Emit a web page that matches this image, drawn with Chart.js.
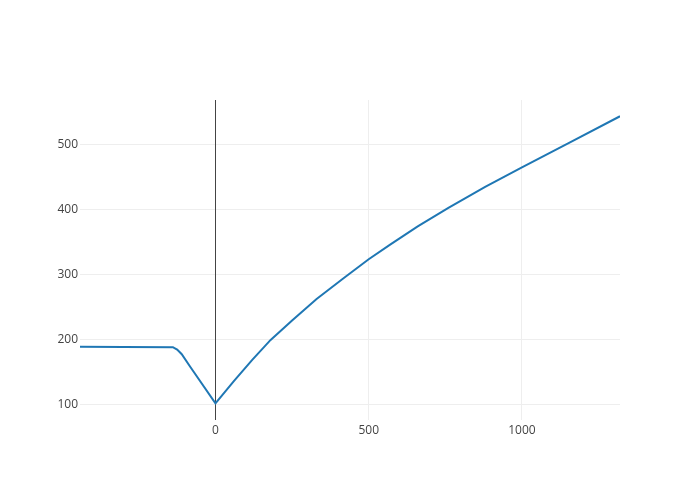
<!DOCTYPE html>
<html>
<head>
<meta charset="utf-8">
<script src="https://cdn.jsdelivr.net/npm/chart.js@4"></script>
<style>
  html, body { margin: 0; padding: 0; background: #fff; }
  #wrap { width: 700px; height: 500px; position: relative; }
</style>
</head>
<body>
<div id="wrap"><canvas id="c" width="700" height="500"></canvas></div>
<script>
const xValues = [-442, -300, -139, -125, -110, -83, 0, 60, 120, 180, 250, 330, 420, 500, 570, 660, 760, 880, 1000, 1160, 1320];
const yValues = [188.6, 188.2, 187.8, 184, 177, 158, 101.5, 135.7, 168.4, 199, 229, 262, 294.5, 323, 345.5, 373.5, 402, 434.5, 464.5, 503.5, 543];
const xTicks = [0, 500, 1000];
const yTicks = [100, 200, 300, 400, 500];
const xRange = [-442, 1320];
const yRange = [75.8, 568];

const points = xValues.map((x, i) => ({ x: x, y: yValues[i] }));

new Chart(document.getElementById('c'), {
  type: 'line',
  data: {
    datasets: [{
      data: points,
      borderColor: '#1f77b4',
      borderWidth: 2,
      pointRadius: 0,
      tension: 0,
      fill: false
    }]
  },
  options: {
    responsive: false,
    animation: false,
    layout: { padding: { left: 0, right: 80, top: 100, bottom: 0 } },
    plugins: { legend: { display: false }, tooltip: { enabled: false } },
    scales: {
      x: {
        type: 'linear',
        min: xRange[0],
        max: xRange[1],
        afterBuildTicks: s => { s.ticks = xTicks.map(v => ({ value: v })); },
        afterFit: s => { s.height = 80; },
        border: { display: false },
        grid: {
          z: 0,
          drawTicks: false,
          color: ctx => (ctx.tick && ctx.tick.value === 0) ? '#444444' : '#eeeeee',
          lineWidth: 1
        },
        ticks: {
          padding: 3,
          color: '#444',
          font: { family: '"Open Sans"', size: 12 },
          maxRotation: 0,
          callback: v => String(v)
        }
      },
      y: {
        type: 'linear',
        min: yRange[0],
        max: yRange[1],
        afterBuildTicks: s => { s.ticks = yTicks.map(v => ({ value: v })); },
        afterFit: s => { s.width = 80; },
        border: { display: false },
        grid: { z: -1, drawTicks: false, color: '#eeeeee', lineWidth: 1 },
        ticks: {
          padding: 2,
          color: '#444',
          font: { family: '"Open Sans"', size: 12 },
          callback: v => String(v)
        }
      }
    }
  }
});
</script>
</body>
</html>
